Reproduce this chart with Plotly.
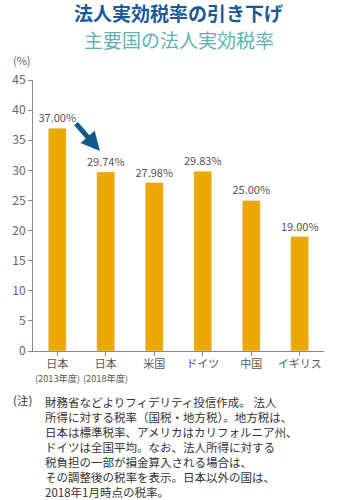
import plotly.graph_objects as go

categories = ["日本", "日本", "米国", "ドイツ", "中国", "イギリス"]
sublabels = ["(2013年度)", "(2018年度)", "", "", "", ""]
values = [37.00, 29.74, 27.98, 29.83, 25.00, 19.00]
labels = ["37.00%", "29.74%", "27.98%", "29.83%", "25.00%", "19.00%"]
yticks = [0, 5, 10, 15, 20, 25, 30, 35, 40, 45]

title = "法人実効税率の引き下げ"
subtitle = "主要国の法人実効税率"
note_head = "(注)"
note_lines = [
    "財務省などよりフィデリティ投信作成。 法人",
    "所得に対する税率（国税・地方税）。地方税は、",
    "日本は標準税率、アメリカはカリフォルニア州、",
    "ドイツは全国平均。なお、法人所得に対する",
    "税負担の一部が損金算入される場合は、",
    "その調整後の税率を表示。日本以外の国は、",
    "2018年1月時点の税率。",
]

FONT = "Noto Sans CJK JP"
xs = list(range(len(categories)))
PH = 271  # plot height px

fig = go.Figure()
fig.add_trace(go.Bar(
    x=xs, y=values, width=0.37, marker_color="#EBA800",
    text=labels, textposition="outside", cliponaxis=False, constraintext="none",
    textfont=dict(size=11, color="#555555", family=FONT),
))

fig.update_layout(
    width=345, height=500, margin=dict(l=30, r=21, t=80, b=149),
    paper_bgcolor="white", plot_bgcolor="white", showlegend=False,
    font=dict(family=FONT, color="#555555"),
    xaxis=dict(tickmode="array", tickvals=xs, ticktext=categories, tickangle=0,
               range=[-0.5, 5.5], showline=True, linecolor="#888888",
               ticks="outside", tickson="boundaries", ticklen=4, tickcolor="#888888",
               ticklabelstandoff=-1,
               tickfont=dict(size=11, color="#555555"), showgrid=False, fixedrange=True),
    yaxis=dict(range=[0, 45], tickvals=yticks, showline=True, linecolor="#888888",
               ticks="outside", ticklen=4, tickcolor="#888888", showgrid=False,
               zeroline=False, tickfont=dict(size=12, color="#666666"), fixedrange=True),
)

for x, s in zip(xs, sublabels):
    if s:
        fig.add_annotation(text=s, x=x, xref="x", yref="paper", y=-(378 - 351) / PH,
                           showarrow=False, xanchor="center", yanchor="middle",
                           font=dict(size=9.2, color="#555555", family=FONT))

ann = [
    dict(text="<b>" + title + "</b>", y=12, font=dict(size=19, color="#1A5A94")),
    dict(text=subtitle, y=39, font=dict(size=19, color="#5DB3B4")),
]
for a in ann:
    fig.add_annotation(text=a["text"], xref="paper", yref="paper", x=0.5,
                       y=1 + (80 - a["y"]) / PH, showarrow=False, font=dict(family=FONT, **a["font"]),
                       xanchor="center", yanchor="middle")

fig.add_annotation(text="(%)", xref="paper", yref="paper", x=-22 / 294, y=1 + (80 - 60) / PH,
                   showarrow=False, xanchor="left", yanchor="middle",
                   font=dict(size=11, color="#666666", family=FONT))

# arrow
fig.add_annotation(x=0.88, y=33.2, ax=0.36, ay=38.0, xref="x", yref="y", axref="x", ayref="y",
                   text="", showarrow=True, arrowhead=2, arrowsize=0.75, arrowwidth=5,
                   arrowcolor="#105A8E")

fig.add_annotation(text=note_head, xref="paper", yref="paper", x=-22 / 294, y=-(400 - 351) / PH,
                   showarrow=False, xanchor="left", yanchor="middle",
                   font=dict(size=11.5, color="#333333", family=FONT))
fig.add_annotation(text="<br>".join(note_lines), xref="paper", yref="paper", x=10 / 294,
                   y=-(392 - 351) / PH, showarrow=False, xanchor="left", yanchor="top",
                   align="left", font=dict(size=11.5, color="#333333", family=FONT))

fig.write_html("out.html")
